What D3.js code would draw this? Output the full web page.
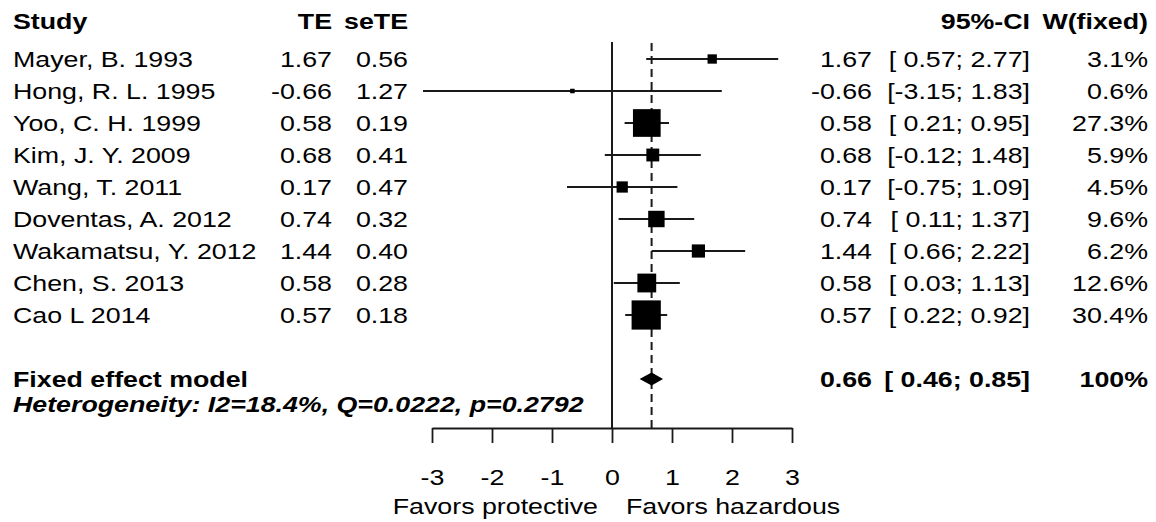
<!DOCTYPE html>
<html>
<head>
<meta charset="utf-8">
<script src="https://cdn.jsdelivr.net/npm/d3@7"></script>
<style>
  html, body { margin: 0; padding: 0; background: #fff; }
  svg { display: block; }
  text { font-family: "Liberation Sans", Arial, Helvetica, sans-serif; fill: #000; }
</style>
</head>
<body>
<svg id="chart" width="1156" height="522"></svg>
<script>
// ---------------- data ----------------
const studies = ["Mayer, B. 1993", "Hong, R. L. 1995", "Yoo, C. H. 1999", "Kim, J. Y. 2009",
  "Wang, T. 2011", "Doventas, A. 2012", "Wakamatsu, Y. 2012", "Chen, S. 2013", "Cao L 2014"];
const te     = [1.67, -0.66, 0.58, 0.68, 0.17, 0.74, 1.44, 0.58, 0.57];
const seTE   = [0.56, 1.27, 0.19, 0.41, 0.47, 0.32, 0.40, 0.28, 0.18];
const lower  = [0.57, -3.15, 0.21, -0.12, -0.75, 0.11, 0.66, 0.03, 0.22];
const upper  = [2.77, 1.83, 0.95, 1.48, 1.09, 1.37, 2.22, 1.13, 0.92];
const weight = [3.1, 0.6, 27.3, 5.9, 4.5, 9.6, 6.2, 12.6, 30.4];
const fixedLabel = "Fixed effect model";
const fixedTE = 0.66, fixedLower = 0.46, fixedUpper = 0.85, fixedWeight = "100%";
const heterogeneity = "Heterogeneity: I2=18.4%, Q=0.0222, p=0.2792";
const headers = { study: "Study", te: "TE", se: "seTE", ci: "95%-CI", w: "W(fixed)" };
const xTicks = [-3, -2, -1, 0, 1, 2, 3];
const labelLeft = "Favors protective", labelRight = "Favors hazardous";

// ---------------- layout ----------------
const svg = d3.select("#chart");
const FS = 22.5, SX = 1.19;
const x = d3.scaleLinear().domain([-3, 3]).range([432, 792]);
const y = d3.scaleLinear().domain([0, 1]).range([59, 91]); // 32px per row
const axisY = 428, plotTop = 42;
const f2 = v => d3.format(".2f")(v).replace("\u2212", "-");
const ciFmt = (lo, hi) => "[" + (lo >= 0 ? " " : "") + f2(lo) + "; " + f2(hi) + "]";

function txt(px, py, s, anchor, opts = {}) {
  const sx = opts.sx || SX;
  return svg.append("text")
    .attr("transform", `translate(${px},${py}) scale(${sx},1)`)
    .attr("text-anchor", anchor || "start")
    .style("font-size", FS + "px")
    .style("font-weight", opts.bold ? "bold" : "normal")
    .style("font-style", opts.italic ? "italic" : "normal")
    .text(s);
}

const colStudy = 13, colTE = 332, colSE = 408, colMean = 872, colCI = 1030, colW = 1148;
const base = 8;

// headers
const hy = 29;
txt(colStudy, hy, headers.study, "start", { bold: true });
txt(colTE, hy, headers.te, "end", { bold: true });
txt(colSE, hy, headers.se, "end", { bold: true });
txt(colCI, hy, headers.ci, "end", { bold: true });
txt(colW, hy, headers.w, "end", { bold: true });

// vertical reference lines
svg.append("line").attr("x1", x(0)).attr("x2", x(0)).attr("y1", plotTop).attr("y2", axisY)
  .attr("stroke", "#1a1a1a").attr("stroke-width", 2);
svg.append("line").attr("x1", x(fixedTE)).attr("x2", x(fixedTE)).attr("y1", plotTop + 1).attr("y2", axisY)
  .attr("stroke", "#1a1a1a").attr("stroke-width", 2).attr("stroke-dasharray", "8,5");

// study rows
const K = 5.3;
studies.forEach((s, i) => {
  const yy = y(i);
  txt(colStudy, yy + base, s, "start");
  txt(colTE, yy + base, f2(te[i]), "end");
  txt(colSE, yy + base, f2(seTE[i]), "end");
  txt(colMean, yy + base, f2(te[i]), "end");
  txt(colCI, yy + base, ciFmt(lower[i], upper[i]), "end");
  txt(colW, yy + base, weight[i].toFixed(1) + "%", "end");
  svg.append("line").attr("x1", x(lower[i])).attr("x2", x(upper[i])).attr("y1", yy).attr("y2", yy)
    .attr("stroke", "#1a1a1a").attr("stroke-width", 1.8);
  const side = Math.max(K * Math.sqrt(weight[i]), 4.5);
  svg.append("rect").attr("x", x(te[i]) - side / 2).attr("y", yy - side / 2)
    .attr("width", side).attr("height", side).attr("fill", "#000");
});

// fixed effect row
const fy = y(studies.length + 1);
txt(colStudy, fy + base, fixedLabel, "start", { bold: true });
txt(colMean, fy + base, f2(fixedTE), "end", { bold: true });
txt(colCI, fy + base, ciFmt(fixedLower, fixedUpper), "end", { bold: true });
txt(colW, fy + base, fixedWeight, "end", { bold: true });
svg.append("path")
  .attr("d", `M${x(fixedLower)},${fy} L${x(fixedTE)},${fy - 6.5} L${x(fixedUpper)},${fy} L${x(fixedTE)},${fy + 6.5} Z`)
  .attr("fill", "#000");

txt(colStudy, 412, heterogeneity, "start", { bold: true, italic: true, sx: SX * 1.0 });

// axis
const axis = d3.axisBottom(x).tickValues(xTicks).tickSize(15).tickSizeOuter(0).tickPadding(26)
  .tickFormat(d => d3.format("d")(d).replace("\u2212", "-"));
const g = svg.append("g").attr("transform", `translate(0,${axisY})`).call(axis);
g.select(".domain").attr("stroke", "#1a1a1a").attr("stroke-width", 1.8);
g.selectAll(".tick line").attr("stroke", "#1a1a1a").attr("stroke-width", 1.8);
g.selectAll(".tick text")
  .attr("font-family", null).style("font-size", FS + "px")
  .attr("fill", "#000")
  .attr("transform", `scale(${SX},1)`);

txt(x(0) - 14, 514, labelLeft, "end");
txt(x(0) + 14, 514, labelRight, "start");
</script>
</body>
</html>
